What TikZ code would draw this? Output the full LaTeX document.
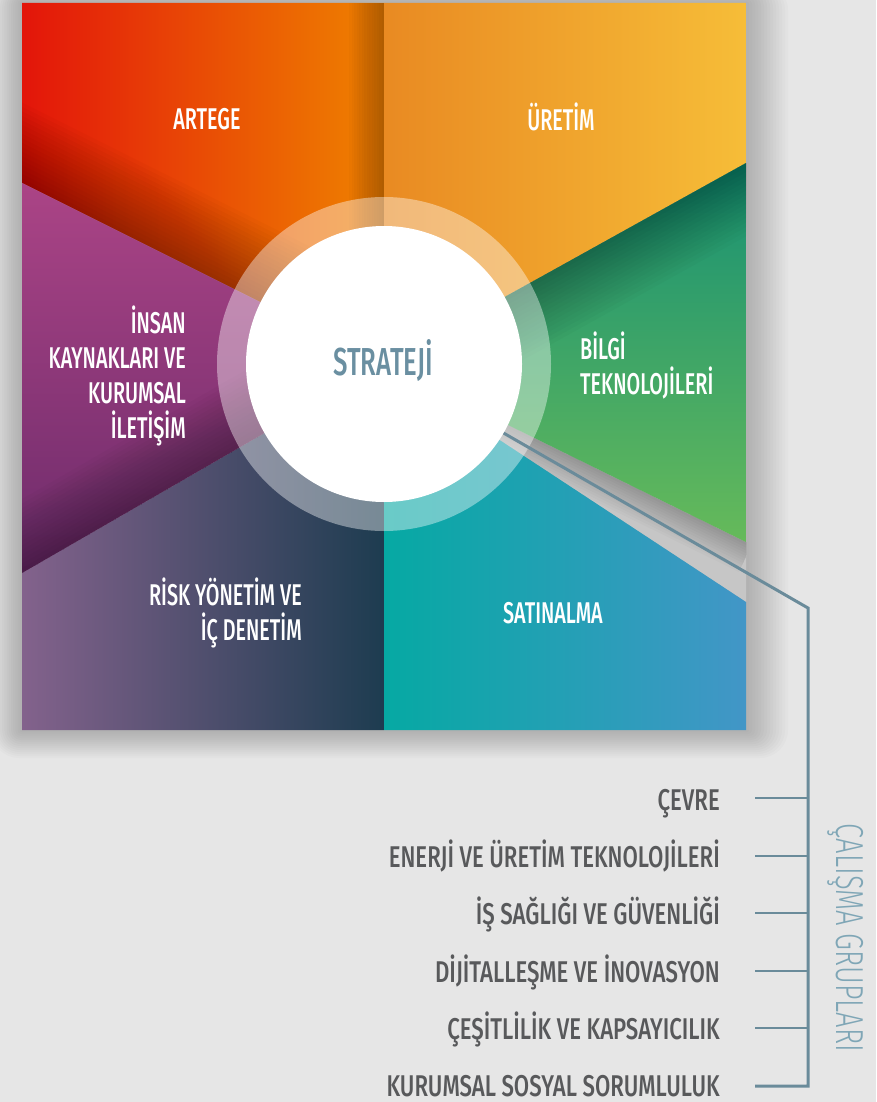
\documentclass[tikz,border=0pt]{standalone}
\usepackage{fontspec}
\setmainfont{Fira Sans}
\newfontfamily\labfont{Fira Sans}[FakeStretch=0.66, UprightFont={* Medium}]
\newfontfamily\listfont{Fira Sans}[FakeStretch=0.74, UprightFont={* Medium}]
\newfontfamily\thinfont{Fira Sans}[FakeStretch=0.70, UprightFont={* Light}]
\definecolor{bg}{HTML}{E6E6E6}
\definecolor{artL}{HTML}{E3150A}
\definecolor{artR}{HTML}{EF8300}
\definecolor{ureL}{HTML}{E98A22}
\definecolor{ureR}{HTML}{F6BD38}
\definecolor{bilT}{HTML}{169074}
\definecolor{bilB}{HTML}{66BA5A}
\definecolor{satL}{HTML}{06A9A3}
\definecolor{satR}{HTML}{4296C7}
\definecolor{riskL}{HTML}{83628C}
\definecolor{riskR}{HTML}{1D3C50}
\definecolor{insT}{HTML}{AB4486}
\definecolor{insB}{HTML}{6D2B6B}
\definecolor{lineC}{HTML}{6A8B9A}
\definecolor{stratC}{HTML}{6A8FA1}
\definecolor{listC}{HTML}{58595B}
\definecolor{vertC}{HTML}{7FA6B6}
\definecolor{notchC}{HTML}{C6C6C6}
\tikzset{
  lab/.style={text=white, font=\labfont\fontsize{30}{35}\selectfont, inner sep=0pt},
  listitem/.style={text=listC, font=\listfont\fontsize{30}{35}\selectfont, inner sep=0pt, anchor=base east},
  conn/.style={draw=lineC, line width=3pt},
  tick/.style={draw=lineC, line width=2.6pt},
  shadowband/.style={fill=black, opacity=0.02},
  outershadow/.style={fill=black, opacity=0.014},
}
\begin{document}
\begin{tikzpicture}[x=1pt, y=-1pt]
\useasboundingbox (0,0) rectangle (876,1102);
\fill[bg] (0,0) rectangle (876,1102);
\coordinate (C) at (384,364);
% soft drop shadow round the square
\foreach \i in {1,...,14}
  \fill[outershadow, rounded corners=\i*2pt] (22-\i*2.2, 3-\i*1.5) rectangle (746+\i*3, 730+\i*2);
% notch between the green and blue pieces
\fill[notchC] (C) -- (746,542) -- (746,602) -- cycle;
\begin{scope}
  \clip (C) -- (746,542) -- (746,602) -- cycle;
  \begin{scope}[shift={(384,364)}, rotate=-26.19]
    \foreach \i in {1,...,12} \fill[shadowband] (0,0) rectangle (410,\i*2.5);
  \end{scope}
\end{scope}
% sectors
\shade[left color=artL, right color=artR] (22,3) -- (384,3) -- (C) -- (22,183) -- cycle;
\begin{scope}
  \clip (22,3) -- (384,3) -- (C) -- (22,183) -- cycle;
  \foreach \i in {1,...,14} \fill[shadowband] (384-\i*2.5,3) rectangle (384,364);
  \begin{scope}[shift={(22,183)}, rotate=-26.57]
    \foreach \i in {1,...,18} \fill[shadowband] (-150,0) rectangle (420,-\i*4);
  \end{scope}
\end{scope}
\shade[left color=ureL, right color=ureR] (384,3) -- (746,3) -- (746,163) -- (C) -- cycle;
\shade[top color=bilT, bottom color=bilB] (C) -- (746,163) -- (746,542) -- cycle;
\begin{scope}
  \clip (C) -- (746,163) -- (746,542) -- cycle;
  \begin{scope}[shift={(384,364)}, rotate=29.04]
    \foreach \i in {1,...,16} \fill[shadowband] (0,0) rectangle (520,\i*4);
  \end{scope}
\end{scope}
\shade[left color=satL, right color=satR] (C) -- (746,602) -- (746,730) -- (384,730) -- cycle;
\shade[left color=riskL, right color=riskR] (C) -- (384,730) -- (22,730) -- (22,573) -- cycle;
\shade[top color=insT, bottom color=insB] (C) -- (22,573) -- (22,183) -- cycle;
\begin{scope}
  \clip (C) -- (22,573) -- (22,183) -- cycle;
  \begin{scope}[shift={(22,573)}, rotate=30]
    \foreach \i in {1,...,16} \fill[shadowband] (-150,0) rectangle (420,-\i*4);
  \end{scope}
\end{scope}
% centre
\node[circle, fill=white, fill opacity=0.4, minimum size=334pt, inner sep=0pt] (ring) at (C) {};
\node[circle, fill=white, minimum size=276pt, inner sep=0pt] (core) at (C) {};
\node[text=stratC, inner sep=0pt, font=\labfont\fontsize{39}{42}\selectfont, anchor=base] (strat) at (383,375) {STRATEJİ};
% sector labels
\node[lab, anchor=base] (artege) at (207,130) {ARTEGE};
\node[lab, anchor=base] (uretim) at (561,131) {ÜRETİM};
\node[lab, align=right, anchor=east] (insan) at (186,376) {İNSAN\\KAYNAKLARI VE\\KURUMSAL\\İLETİŞİM};
\node[lab, align=left, anchor=west] (bilgi) at (580,365) {BİLGİ\\TEKNOLOJİLERİ};
\node[lab, align=right, anchor=east] (risk) at (302,613) {RİSK YÖNETİM VE\\İÇ DENETİM};
\node[lab, anchor=base] (satin) at (553,623) {SATINALMA};
% working groups
\node[listitem] (g1) at (720,810) {ÇEVRE};
\node[listitem] (g2) at (720,867) {ENERJİ VE ÜRETİM TEKNOLOJİLERİ};
\node[listitem] (g3) at (720,924) {İŞ SAĞLIĞI VE GÜVENLİĞİ};
\node[listitem] (g4) at (720,982) {DİJİTALLEŞME VE İNOVASYON};
\node[listitem] (g5) at (720,1039) {ÇEŞİTLİLİK VE KAPSAYICILIK};
\node[listitem] (g6) at (720,1096) {KURUMSAL SOSYAL SORUMLULUK};
\node[rotate=-90, text=vertC, inner sep=0pt, font=\thinfont\fontsize{39}{42}\selectfont] (cal) at (846,938) {ÇALIŞMA GRUPLARI};
% connector
\coordinate (j) at (808,608);
\coordinate (jb) at (808,1086);
\coordinate (k1) at (755,798);
\coordinate (k2) at (755,856);
\coordinate (k3) at (755,913);
\coordinate (k4) at (755,971);
\coordinate (k5) at (755,1028);
\coordinate (k6) at (755,1086);
\draw[conn] (core.-30) -- (j) -- (jb) -- (k6);
\foreach \k in {k1,k2,k3,k4,k5} \draw[tick] (\k) -- (\k -| j);
\end{tikzpicture}
\end{document}
